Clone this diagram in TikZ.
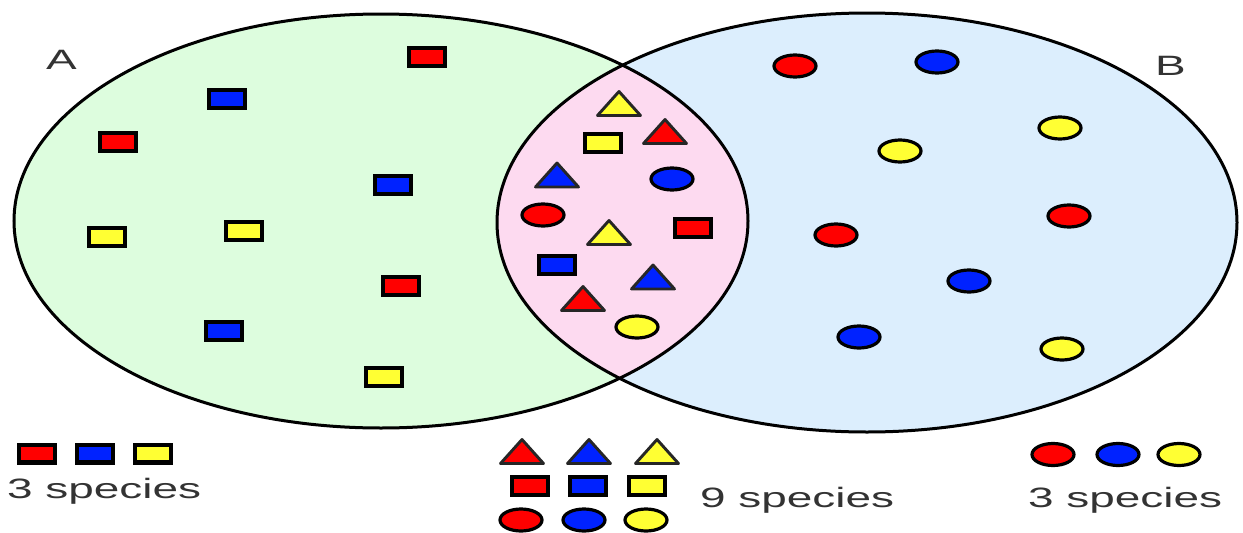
\documentclass[tikz,border=0pt]{standalone}
\usepackage{fontspec}
\setmainfont{Liberation Sans}
\usepackage{graphicx}
\definecolor{agreen}{RGB}{221,253,222}
\definecolor{bblue}{RGB}{220,238,253}
\definecolor{lpink}{RGB}{253,218,240}
\definecolor{sred}{RGB}{255,0,0}
\definecolor{sblue}{RGB}{0,34,255}
\definecolor{syellow}{RGB}{255,255,51}
\definecolor{txt}{RGB}{51,51,51}
\tikzset{
 sq/.pic={\draw[fill=#1,line width=4.4pt] (-17.8,-8.8) rectangle (17.8,8.8);},
 ci/.pic={\draw[fill=#1,line width=3.2pt] (0,0) ellipse [x radius=21, y radius=11];},
 tri/.pic={\draw[fill=#1,line width=2.9pt,line join=round,draw=black!85] (0,-12) -- (21.5,12) -- (-21.5,12) -- cycle;},
 lbl/.style={text=txt, font=\fontsize{28}{30}\selectfont, inner sep=0pt, anchor=base west},
 setline/.style={line width=3pt, draw=black},
}
\begin{document}
\begin{tikzpicture}[x=1pt,y=-1pt]
\useasboundingbox (0,0) rectangle (1243,533);
% sets
\fill[agreen] (381,221) ellipse [x radius=367, y radius=207];
\fill[bblue] (867,222.5) ellipse [x radius=370, y radius=209.5];
\begin{scope}
\clip (381,221) ellipse [x radius=367, y radius=207];
\fill[lpink] (867,222.5) ellipse [x radius=370, y radius=209.5];
\end{scope}
\draw[setline] (381,221) ellipse [x radius=367, y radius=207];
\draw[setline] (867,222.5) ellipse [x radius=370, y radius=209.5];
% labels
\node[lbl] (la) at (46,69) {\scalebox{1.64}[1]{A}};
\node[lbl] (lb) at (1155,75) {\scalebox{1.64}[1]{B}};
% A only: squares
\pic at (427,57) {sq=sred};
\pic at (227,99) {sq=sblue};
\pic at (118,142) {sq=sred};
\pic at (393,185) {sq=sblue};
\pic at (107,237) {sq=syellow};
\pic at (244,231) {sq=syellow};
\pic at (401,286) {sq=sred};
\pic at (224,331) {sq=sblue};
\pic at (384,377) {sq=syellow};
% B only: circles
\pic at (795,66) {ci=sred};
\pic at (937,62) {ci=sblue};
\pic at (1060,128) {ci=syellow};
\pic at (900,151) {ci=syellow};
\pic at (1069,216) {ci=sred};
\pic at (836,235) {ci=sred};
\pic at (969,281) {ci=sblue};
\pic at (859,337) {ci=sblue};
\pic at (1062,349) {ci=syellow};
% intersection
\pic at (619,103.5) {tri=syellow};
\pic at (603,143) {sq=syellow};
\pic at (665,131.5) {tri=sred};
\pic at (557,175) {tri=sblue};
\pic at (672,179) {ci=sblue};
\pic at (543,215) {ci=sred};
\pic at (609,232.5) {tri=syellow};
\pic at (693,228) {sq=sred};
\pic at (557,265) {sq=sblue};
\pic at (653,277) {tri=sblue};
\pic at (583,298.5) {tri=sred};
\pic at (637,327) {ci=syellow};
% legends
\pic at (37,453.5) {sq=sred};
\pic at (95,453.5) {sq=sblue};
\pic at (153,453.5) {sq=syellow};
\node[lbl] (t1) at (7,498) {\scalebox{1.64}[1]{3 species}};
\pic at (522,451.5) {tri=sred};
\pic at (589,451.5) {tri=sblue};
\pic at (657,451.5) {tri=syellow};
\pic at (530,486) {sq=sred};
\pic at (588,486) {sq=sblue};
\pic at (647,486) {sq=syellow};
\pic at (521,520) {ci=sred};
\pic at (584,520) {ci=sblue};
\pic at (646,520) {ci=syellow};
\node[lbl] (t2) at (700,507) {\scalebox{1.64}[1]{9 species}};
\pic at (1053,454.5) {ci=sred};
\pic at (1118,454.5) {ci=sblue};
\pic at (1179,454.5) {ci=syellow};
\node[lbl] (t3) at (1028,507) {\scalebox{1.64}[1]{3 species}};
\end{tikzpicture}
\end{document}
